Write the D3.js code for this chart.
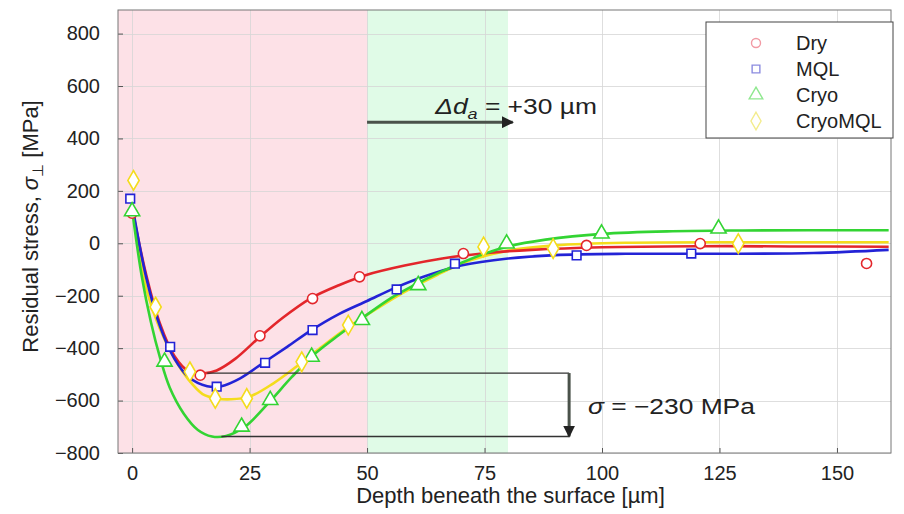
<!DOCTYPE html>
<meta charset="utf-8">
<style>
    body { margin: 0; background: #fff; }
    text { font-family: "Liberation Sans", Arial, sans-serif; fill: #222; }
    .grid line { stroke: #d6d6d6; stroke-opacity: 0.8; shape-rendering: crispEdges; }
    .grid path { stroke-width: 0; }
    .axis path { display: none; }
    .axis line { stroke: #555; }
    .axis text { font-size: 20px; }
    .fit { fill: none; stroke-width: 2.6px; }
    .mark { fill: #fff; stroke-width: 1.6px; }
    .guide { stroke: #333; stroke-width: 1.3px; }
    .arrow { stroke: #4a524a; stroke-width: 3px; }
</style>
<body>
<script src="https://d3js.org/d3.v7.min.js"></script>
<script>

    // tick labels
    var xTicks = [0, 25, 50, 75, 100, 125, 150];
    var yTicks = [-800, -600, -400, -200, 0, 200, 400, 600, 800];

    // measured points [depth, stress]
    var dryMarks = [[0, 115], [14.5, -503], [27.2, -353], [38.4, -211], [48.4, -128], [70.5, -39], [96.7, -8], [120.9, -1], [156.3, -77]];
    var mqlMarks = [[-0.4, 170], [8.1, -395], [18, -547], [28.3, -456], [38.4, -331], [56.3, -176], [68.7, -78], [94.6, -46], [119, -39]];
    var cryoMarks = [[0, 122], [6.9, -452], [23.3, -700], [29.4, -598], [38.2, -433], [48.9, -293], [60.9, -160], [79.7, -1], [99.9, 37], [124.8, 56]];
    var cryoMqlMarks = [[0.3, 240], [5, -243], [12.3, -490], [17.7, -592], [24.4, -592], [36.1, -452], [46, -312], [74.8, -14], [89.6, -20], [129, -1]];

    // fitted curves
    var dryFit = [[0, 135], [3, -120], [6, -310], [9, -430], [12, -488], [15, -497], [18, -485], [22, -440], [27, -360], [32, -285], [38, -210], [44, -160], [50, -120], [58, -85], [66, -58], [75, -38], [85, -25], [100, -15], [120, -11], [140, -12], [161, -13]];
    var mqlFit = [[0, 150], [3, -130], [6, -320], [9, -440], [12, -510], [16, -545], [19, -545], [23, -515], [28, -455], [33, -395], [38, -333], [44, -270], [50, -220], [56, -170], [62, -128], [70, -85], [80, -58], [90, -45], [105, -40], [125, -40], [145, -37], [161, -25]];
    var cryoFit = [[0, 130], [2, -120], [4, -300], [6, -440], [8, -550], [11, -650], [14, -712], [17, -737], [20, -735], [24, -700], [29, -610], [34, -510], [39, -420], [44, -350], [49, -285], [55, -210], [60, -160], [65, -115], [70, -75], [75, -40], [80, -12], [88, 14], [100, 36], [115, 46], [130, 49], [161, 50]];
    var cryoMqlFit = [[0, 145], [3, -170], [6, -330], [9, -440], [12, -520], [15, -575], [18, -592], [21, -595], [25, -585], [30, -535], [35, -470], [40, -400], [46, -320], [52, -250], [58, -185], [65, -120], [72, -65], [80, -28], [90, -8], [105, 2], [130, 4], [161, 4]];

    var series = ["Dry", "MQL", "Cryo", "CryoMQL"];
    var colors = ["#e3262b", "#2323d6", "#33d433", "#f4dc1c"];
    var legendColors = ["#f29aa4", "#8c8ce0", "#8fe88f", "#f3ec8c"];
    var symbols = [d3.symbolCircle, d3.symbolSquare, d3.symbolTriangle, d3.symbolDiamond];
    var symbolSizes = [80, 75, 100, 110];

    // set the dimensions and margins of the graph
    var margin = {top: 10, right: 13, bottom: 61, left: 118},
        width = 904 - margin.left - margin.right,
        height = 514 - margin.top - margin.bottom;

    var x = d3.scaleLinear().domain([-3, 161.5]).range([0, width]);
    var y = d3.scaleLinear().domain([-800, 890]).range([height, 0]);

    var svg = d3.select("body")
        .append("svg")
        .attr("width", width + margin.left + margin.right)
        .attr("height", height + margin.top + margin.bottom)
        .append("g")
        .attr("transform", "translate(" + margin.left + "," + margin.top + ")");

    // shaded zones
    svg.append("rect")
        .attr("x", 0).attr("y", 0)
        .attr("width", x(50)).attr("height", height)
        .attr("fill", "#fde1e7");
    svg.append("rect")
        .attr("x", x(50)).attr("y", 0)
        .attr("width", x(80) - x(50)).attr("height", height)
        .attr("fill", "#e0fbe7");

    // gridlines
    svg.append("g")
        .attr("class", "grid")
        .attr("transform", "translate(0," + height + ")")
        .call(d3.axisBottom(x).tickValues(xTicks).tickSize(-height).tickFormat(""));
    svg.append("g")
        .attr("class", "grid")
        .call(d3.axisLeft(y).tickValues(yTicks).tickSize(-width).tickFormat(""));

    // fitted curves
    var line = d3.line()
        .x(function(d) { return x(d[0]); })
        .y(function(d) { return y(d[1]); })
        .curve(d3.curveCatmullRom.alpha(0.5));

    var fits = [dryFit, mqlFit, cryoFit, cryoMqlFit];
    [3, 0, 1, 2].forEach(function(i) {
        svg.append("path")
            .datum(fits[i])
            .attr("class", "fit")
            .attr("stroke", colors[i])
            .attr("d", line);
    });

    // annotation guides
    svg.append("line").attr("class", "guide")
        .attr("x1", x(16)).attr("x2", x(93))
        .attr("y1", y(-495)).attr("y2", y(-495));
    svg.append("line").attr("class", "guide")
        .attr("x1", x(19)).attr("x2", x(93))
        .attr("y1", y(-737)).attr("y2", y(-737));

    var defs = svg.append("defs");
    defs.append("marker")
        .attr("id", "head")
        .attr("viewBox", "0 0 10 10")
        .attr("refX", 9).attr("refY", 5)
        .attr("markerWidth", 4).attr("markerHeight", 4)
        .attr("markerUnits", "strokeWidth")
        .attr("orient", "auto")
        .append("path")
        .attr("d", "M0,0L10,5L0,10z")
        .attr("fill", "#222");

    svg.append("line").attr("class", "arrow")
        .attr("x1", x(50)).attr("x2", x(81))
        .attr("y1", y(462)).attr("y2", y(462))
        .attr("marker-end", "url(#head)");
    svg.append("line").attr("class", "arrow")
        .attr("stroke", "#666")
        .attr("x1", x(93)).attr("x2", x(93))
        .attr("y1", y(-495)).attr("y2", y(-737))
        .attr("marker-end", "url(#head)");

    // annotation texts (slightly stretched like the source figure)
    var t1 = svg.append("g")
        .attr("transform", "translate(" + x(64.5) + "," + y(492) + ") scale(1.2,1)")
        .append("text")
        .style("font-size", "22px");
    t1.append("tspan").style("font-style", "italic").text("\u0394d");
    t1.append("tspan").attr("dy", 5).style("font-size", "15px").style("font-style", "italic").text("a");
    t1.append("tspan").attr("dy", -5).text(" = +30 \u00b5m");

    var t2 = svg.append("g")
        .attr("transform", "translate(" + x(97) + "," + y(-652) + ") scale(1.2,1)")
        .append("text")
        .style("font-size", "22px");
    t2.append("tspan").style("font-style", "italic").text("\u03c3");
    t2.append("tspan").text(" =  \u2212230 MPa");

    // measured points
    var marks = [dryMarks, mqlMarks, cryoMarks, cryoMqlMarks];
    marks.forEach(function(pts, i) {
        svg.append("g")
            .selectAll("path")
            .data(pts)
            .enter().append("path")
            .attr("class", "mark")
            .attr("stroke", colors[i])
            .attr("transform", function(d) { return "translate(" + x(d[0]) + "," + y(d[1]) + ")"; })
            .attr("d", d3.symbol().type(symbols[i]).size(symbolSizes[i]));
    });

    // axes
    svg.append("g")
        .attr("class", "axis")
        .attr("transform", "translate(0," + height + ")")
        .call(d3.axisBottom(x).tickValues(xTicks).tickSizeInner(-5).tickSizeOuter(0).tickPadding(13));
    svg.append("g")
        .attr("class", "axis")
        .call(d3.axisLeft(y).tickValues(yTicks).tickSizeInner(-5).tickSizeOuter(0).tickPadding(18));

    // frame
    svg.append("rect")
        .attr("width", width).attr("height", height)
        .attr("fill", "none")
        .attr("stroke", "#777");

    // axis titles
    svg.append("text")
        .attr("x", width / 2 + 6).attr("y", height + 50)
        .attr("text-anchor", "middle")
        .style("font-size", "22px")
        .text("Depth beneath the surface [\u00b5m]");

    var yl = svg.append("text")
        .attr("transform", "translate(-80," + (height / 2 - 5) + ") rotate(-90)")
        .attr("text-anchor", "middle")
        .style("font-size", "22px");
    yl.append("tspan").text("Residual stress, ");
    yl.append("tspan").style("font-style", "italic").text("\u03c3");
    yl.append("tspan").attr("dy", 5).style("font-size", "15px").text("\u22a5");
    yl.append("tspan").attr("dy", -5).text(" [MPa]");

    // legend
    var lg = svg.append("g")
        .attr("transform", "translate(" + (588) + ",12)");
    lg.append("rect")
        .attr("width", 187).attr("height", 116)
        .attr("fill", "#fff")
        .attr("stroke", "#444");
    series.forEach(function(name, i) {
        var row = lg.append("g").attr("transform", "translate(0," + (21 + i * 26) + ")");
        row.append("path")
            .attr("transform", "translate(50,0)")
            .attr("fill", "#fff")
            .attr("stroke", legendColors[i])
            .attr("stroke-width", 1.4)
            .attr("d", d3.symbol().type(symbols[i]).size(symbolSizes[i] * 0.8));
        row.append("text")
            .attr("x", 90).attr("y", 7)
            .style("font-size", "20px")
            .text(name);
    });

</script>
</body>
